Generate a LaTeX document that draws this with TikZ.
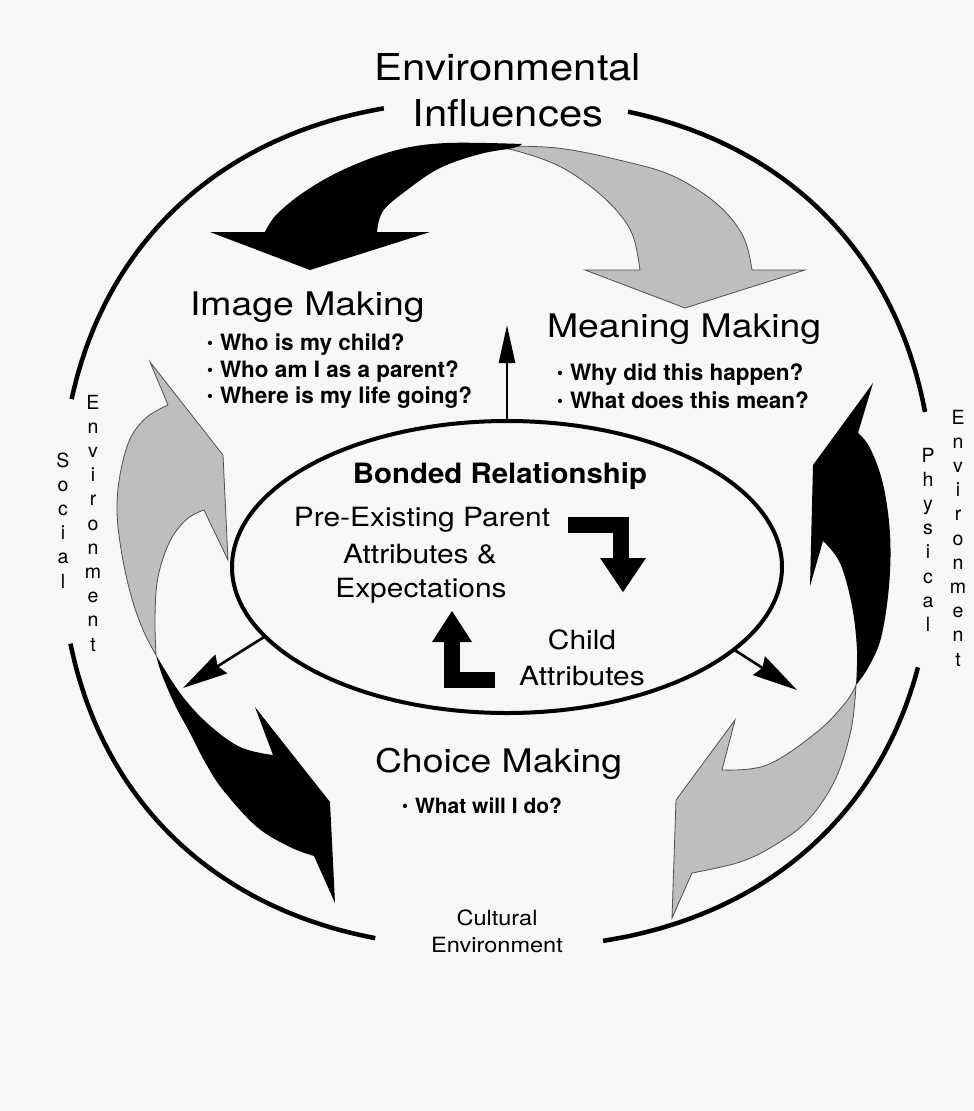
\documentclass[tikz,border=0pt]{standalone}
\usepackage{fontspec}
\setmainfont{TeX Gyre Heros}
\usetikzlibrary{arrows.meta,shapes.geometric}
\definecolor{bgc}{RGB}{248,246,246}
\definecolor{garrow}{RGB}{190,190,190}
\definecolor{gedge}{RGB}{80,80,80}
\newcommand{\mybul}{\makebox[13pt][l]{\fontsize{17}{17}\selectfont\raisebox{2pt}{\textbullet}}}
\newcommand{\hsx}[2][1.13]{\scalebox{#1}[1]{#2}}
\begin{document}
\begin{tikzpicture}[x=1pt,y=-1pt,
  every node/.style={inner sep=0pt, outer sep=0pt},
  ttl/.style={font=\fontsize{37}{44}\selectfont, anchor=base},
  hd/.style={font=\fontsize{32.5}{39}\selectfont, anchor=base west},
  bl/.style={font=\bfseries\fontsize{22.5}{27}\selectfont, anchor=base west},
  inn/.style={font=\fontsize{26.5}{32}\selectfont, anchor=base},
  vlet/.style={font=\fontsize{19.5}{23}\selectfont, anchor=base},
  envt/.style={font=\fontsize{21}{25}\selectfont, anchor=base},
  ring/.style={line width=4.5pt},
  gry/.style={fill=garrow, draw=gedge, line width=0.8pt},
  smallarr/.style={line width=2.6pt, -{Stealth[length=45pt,width=22pt,inset=4pt]}},
  bentarr/.style={line width=16pt},
]
\useasboundingbox (0,0) rectangle (974,1111);
\fill[bgc] (0,0) rectangle (974,1111);

% outer ring arcs (superellipse, exponent 2.3)
\def\pw{0.8696}
\draw[ring] plot[domain=194.2:257.8, samples=90, variable=\t]
  ({497-437*((-1*cos(\t))^\pw)}, {524-424*((-1*sin(\t))^\pw)});
\draw[ring] plot[domain=284.5:347.5, samples=90, variable=\t]
  ({497+437*((cos(\t))^\pw)}, {524-424*((-1*sin(\t))^\pw)});
\draw[ring] plot[domain=16.7:78.7, samples=90, variable=\t]
  ({497+437*((cos(\t))^\pw)}, {524+424*((sin(\t))^\pw)});
\draw[ring] plot[domain=103.3:166.5, samples=90, variable=\t]
  ({497-437*((-1*cos(\t))^\pw)}, {524+424*((sin(\t))^\pw)});

% top arrows
\path[gry] plot[smooth,tension=.6] coordinates {(490,146) (557,148) (623,161) (673,176) (717,204) (743,236) (752,270)} -- (805,270) -- (685,308) -- (585,270) -- (640,270) -- plot[smooth,tension=.6] coordinates {(640,270) (633,236) (617,211) (590,186) (557,165) (517,151) (490,146)} -- cycle;
\fill[black] plot[smooth,tension=.6] coordinates {(522,144) (447,143) (397,150) (347,168) (307,190) (277,214) (265,232)} -- (210,232) -- (310,270) -- (430,232) -- (377,232) -- plot[smooth,tension=.6] coordinates {(377,232) (383,211) (407,190) (440,168) (480,154) (513,148) (522,144)} -- cycle;

% left arrows
\path[gry] plot[smooth,tension=.6] coordinates {(156,655) (155,617) (158,577) (170,541) (187,519) (204,510)} -- (228,560) -- (223,455) -- (150,362) -- (168,405) -- plot[smooth,tension=.6] coordinates {(168,405) (147,417) (130,439) (120,475) (117,512) (122,555) (132,599) (144,632) (156,655)} -- cycle;
\fill[black] plot[smooth,tension=.6] coordinates {(156,655) (162,675) (175,705) (190,733) (205,762) (223,790) (257,827) (290,847) (314,856)} -- (335,903) -- (330,802) -- (255,707) -- (273,755) -- plot[smooth,tension=.6] coordinates {(273,755) (240,747) (207,723) (180,693) (156,655)} -- cycle;

% right arrows
\fill[black] (873,383) -- (813,465) -- (810,586) -- (823,541) -- plot[smooth,tension=.6] coordinates {(823,541) (840,563) (852,606) (857,650) (856,685)} -- plot[smooth,tension=.6] coordinates {(856,685) (868,668) (881,638) (889,586) (890,534) (883,484) (870,448) (858,433)} -- cycle;
\path[gry] plot[smooth,tension=.6] coordinates {(856,685) (851,730) (835,780) (808,820) (775,845) (740,862) (692,873)} -- (672,918) -- (676,800) -- (735,720) -- (722,770) -- plot[smooth,tension=.6] coordinates {(722,770) (767,765) (817,732) (846,702) (856,685)} -- cycle;

% central ellipse
\node[draw, ellipse, line width=4pt, minimum width=550pt, minimum height=292pt, fill=bgc] (bond) at (507,567) {};

% bent arrows inside
\draw[bentarr] (568,525) -- (621,525) -- (621,560);
\fill (600,558) -- (646,558) -- (623,592) -- cycle;
\draw[bentarr] (495,680) -- (452,680) -- (452,640);
\fill (432,642) -- (472,642) -- (452,611) -- cycle;

% connectors from ellipse
\coordinate (ltip) at (183,688);
\coordinate (rtip) at (797,690);
\coordinate (utip) at (507,325);
\draw[smallarr] (bond.196) -- (ltip);
\draw[smallarr] (bond.-20) -- (rtip);
\draw[line width=2.6pt, -{Triangle[length=38pt,width=16pt]}] (bond.north) -- (utip);

% titles
\node[ttl] (env1) at (508,80) {\hsx{Environmental}};
\node[ttl] (env2) at (508,126) {\hsx{Influences}};

\node[hd] (img) at (190,315) {\hsx[1.15]{Image Making}};
\node[bl] (img1) at (207,350) {\mybul Who is my child?};
\node[bl] (img2) at (207,377) {\mybul Who am I as a parent?};
\node[bl] (img3) at (207,403) {\mybul Where is my life going?};

\node[hd] (mean) at (547,337) {\hsx[1.15]{Meaning Making}};
\node[bl] (mean1) at (557,380) {\mybul Why did this happen?};
\node[bl] (mean2) at (557,408) {\mybul What does this mean?};

\node[hd] (cho) at (375,772) {\hsx[1.15]{Choice Making}};
\node[bl, font=\bfseries\fontsize{21}{25}\selectfont] (cho1) at (402,813) {\mybul What will I do?};

\node[anchor=base, font=\bfseries\fontsize{28}{33}\selectfont] (bondt) at (500,483) {\hsx[1.05]{Bonded Relationship}};
\node[inn] (pre1) at (422,526) {\hsx{Pre-Existing Parent}};
\node[inn] (pre2) at (420,563) {\hsx{Attributes \&}};
\node[inn] (pre3) at (421,597) {\hsx{Expectations}};
\node[inn] (ch1) at (582,649) {\hsx{Child}};
\node[inn] (ch2) at (582,685) {\hsx{Attributes}};

\node[envt] (cul1) at (497,925) {\hsx[1.12]{Cultural}};
\node[envt] (cul2) at (497,952) {\hsx[1.12]{Environment}};

% vertical labels
\foreach \c [count=\i from 0] in {S,o,c,i,a,l}
  \node[vlet] (soc\i) at (63,467+24.2*\i) {\c};
\foreach \c [count=\i from 0] in {E,n,v,i,r,o,n,m,e,n,t}
  \node[vlet] (senv\i) at (93,409+24.2*\i) {\c};
\foreach \c [count=\i from 0] in {P,h,y,s,i,c,a,l}
  \node[vlet] (phy\i) at (928,462+24.2*\i) {\c};
\foreach \c [count=\i from 0] in {E,n,v,i,r,o,n,m,e,n,t}
  \node[vlet] (penv\i) at (958,424+24.2*\i) {\c};
\end{tikzpicture}
\end{document}
